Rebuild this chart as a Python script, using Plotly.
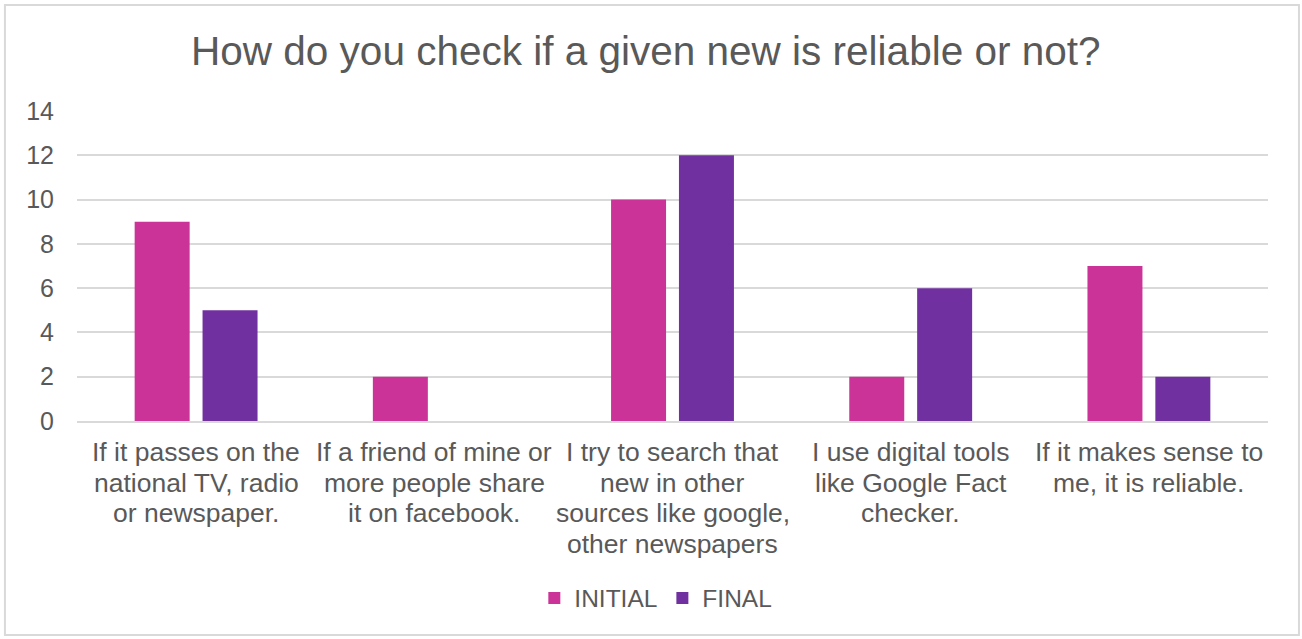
import plotly.graph_objects as go

categories = [
    "If it passes on the<br>national TV, radio<br>or newspaper.",
    "If a friend of mine or<br>more people share<br>it on facebook.",
    "I try to search that<br>new in other<br>sources like google,<br>other newspapers",
    "I use digital tools<br>like Google Fact<br>checker.",
    "If it makes sense to<br>me, it is reliable.",
]
initial = [9, 2, 10, 2, 7]
final = [5, 0, 12, 6, 2]
y_ticks = [0, 2, 4, 6, 8, 10, 12, 14]

TEXT = "#595959"
GRID = "#d9d9d9"
FONT = "Liberation Sans, Arial, sans-serif"
LINE_STEP = 30.5  # spacing of wrapped category label lines, px

fig = go.Figure()
fig.add_trace(go.Bar(name="INITIAL", x=categories, y=initial, marker_color="#CC3399",
                     marker_line_width=0))
fig.add_trace(go.Bar(name="FINAL", x=categories, y=final, marker_color="#7030A0",
                     marker_line_width=0))

# Category labels: one annotation per wrapped line for tighter line spacing
for cat in categories:
    for j, line in enumerate(cat.split("<br>")):
        fig.add_annotation(x=cat, y=0, xref="x", yref="y", text=line, showarrow=False,
                           xanchor="center", yanchor="middle",
                           yshift=-(31 + LINE_STEP * j),
                           font=dict(size=26.5, color=TEXT, family=FONT))

fig.update_layout(
    width=1302, height=639,
    margin=dict(l=77, r=34, t=111, b=218),
    paper_bgcolor="white", plot_bgcolor="white",
    font=dict(family=FONT, color=TEXT, size=24),
    barmode="group", bargap=0.43, bargroupgap=0.19,
    title=dict(text="How do you check if a given new is reliable or not?",
               x=0.496, xanchor="center", y=0.92, yanchor="middle",
               font=dict(size=40.5, color=TEXT, family=FONT)),
    legend=dict(orientation="h", x=0.486, xanchor="center", y=-0.571, yanchor="middle",
                font=dict(size=24.5, color=TEXT), itemwidth=30, traceorder="normal"),
    showlegend=True,
)
fig.update_xaxes(showgrid=False, showline=True, linecolor=GRID, linewidth=2,
                 showticklabels=False, ticks="")
fig.update_yaxes(range=[0, 14], tickvals=y_ticks, showgrid=True, gridcolor=GRID, gridwidth=2,
                 zeroline=False, showline=False, tickfont=dict(size=25, color=TEXT),
                 ticks="", ticklabelstandoff=22)
fig.add_shape(type="rect", xref="paper", yref="paper", x0=-0.0605, x1=1.026,
              y0=-0.69, y1=1.342, line=dict(color=GRID, width=2), fillcolor="rgba(0,0,0,0)")

fig.write_html("out.html")
